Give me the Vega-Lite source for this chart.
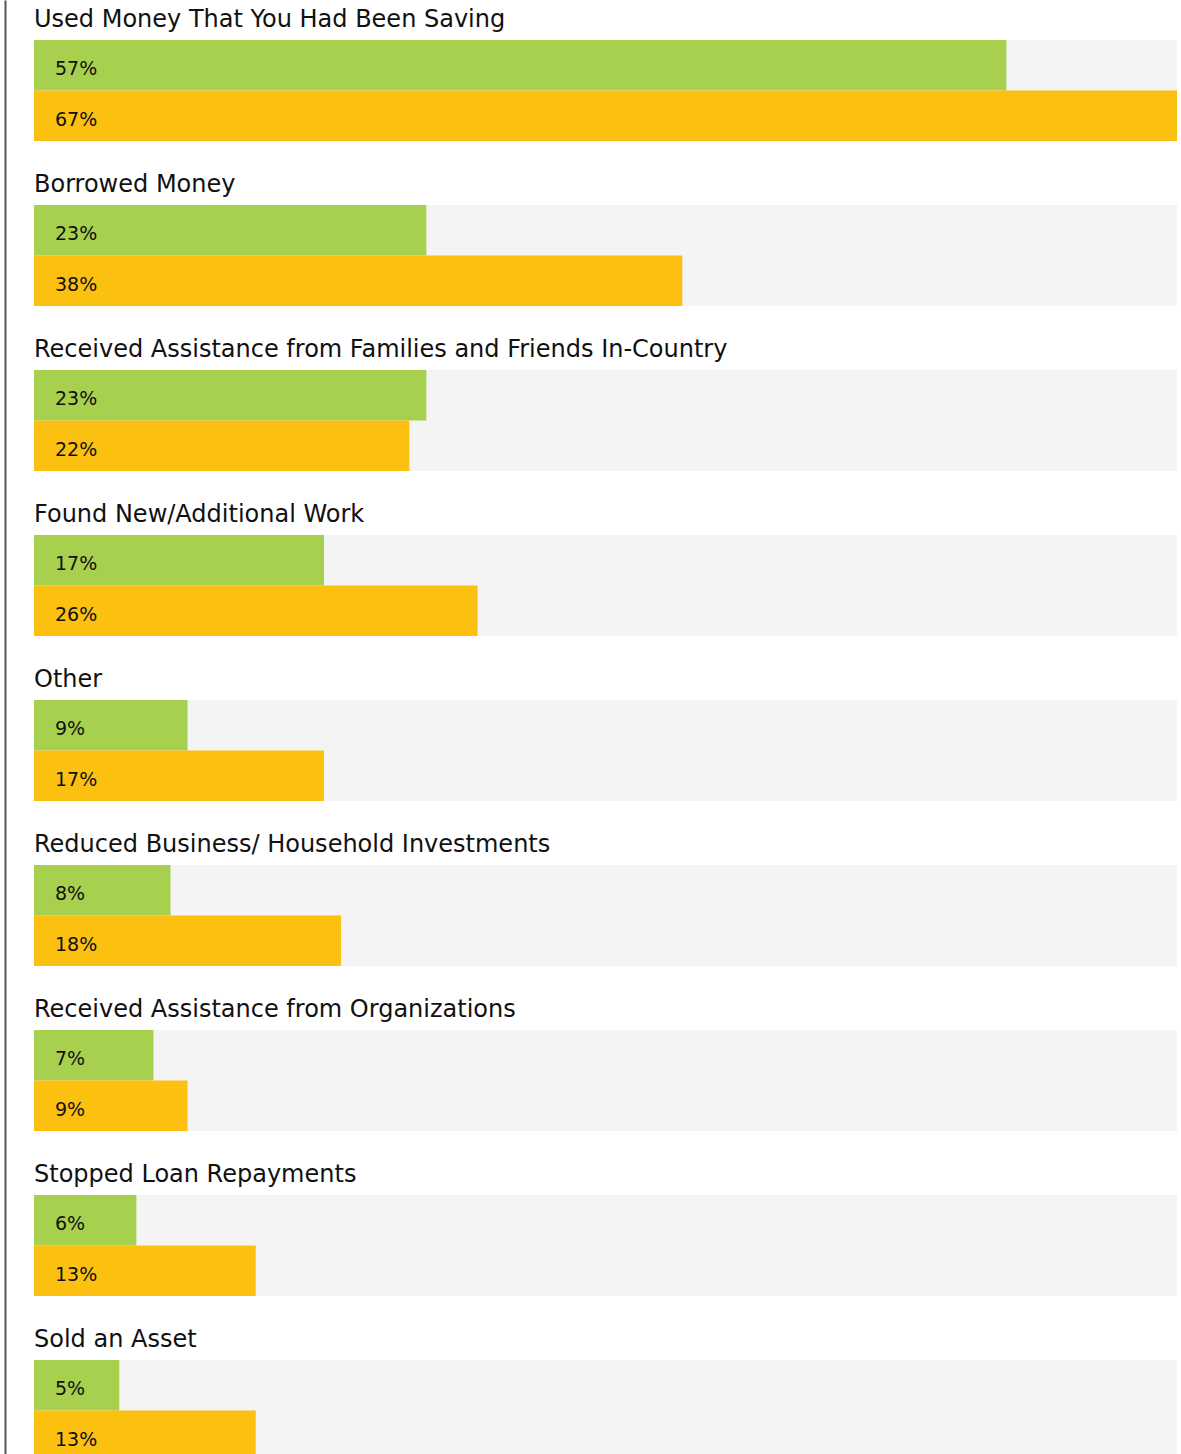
{
  "$schema": "https://vega.github.io/schema/vega-lite/v6.json",
  "width": 1143,
  "height": 1501,
  "padding": {"left": 34, "top": 0, "right": 4, "bottom": 0},
  "autosize": {"type": "none"},
  "background": "#ffffff",
  "config": {"view": {"stroke": null}, "font": "DejaVu Sans"},
  "data": {
    "values": [
      {"category": "Used Money That You Had Been Saving", "series": "Group 1", "value": 0.57},
      {"category": "Used Money That You Had Been Saving", "series": "Group 2", "value": 0.67},
      {"category": "Borrowed Money", "series": "Group 1", "value": 0.23},
      {"category": "Borrowed Money", "series": "Group 2", "value": 0.38},
      {"category": "Received Assistance from Families and Friends In-Country", "series": "Group 1", "value": 0.23},
      {"category": "Received Assistance from Families and Friends In-Country", "series": "Group 2", "value": 0.22},
      {"category": "Found New/Additional Work", "series": "Group 1", "value": 0.17},
      {"category": "Found New/Additional Work", "series": "Group 2", "value": 0.26},
      {"category": "Other", "series": "Group 1", "value": 0.09},
      {"category": "Other", "series": "Group 2", "value": 0.17},
      {"category": "Reduced Business/ Household Investments", "series": "Group 1", "value": 0.08},
      {"category": "Reduced Business/ Household Investments", "series": "Group 2", "value": 0.18},
      {"category": "Received Assistance from Organizations", "series": "Group 1", "value": 0.07},
      {"category": "Received Assistance from Organizations", "series": "Group 2", "value": 0.09},
      {"category": "Stopped Loan Repayments", "series": "Group 1", "value": 0.06},
      {"category": "Stopped Loan Repayments", "series": "Group 2", "value": 0.13},
      {"category": "Sold an Asset", "series": "Group 1", "value": 0.05},
      {"category": "Sold an Asset", "series": "Group 2", "value": 0.13}
    ]
  },
  "encoding": {
    "y": {
      "field": "category",
      "type": "nominal",
      "sort": null,
      "scale": {"paddingInner": 0.3879, "paddingOuter": 0.2424},
      "axis": {"domain": true, "domainColor": "#555555", "domainWidth": 2, "offset": 29, "labels": false, "ticks": false, "grid": false, "title": null}
    }
  },
  "layer": [
    {
      "transform": [{"filter": "datum.series === 'Group 1'"}],
      "mark": {"type": "bar", "color": "#f4f4f4"},
      "encoding": {
        "x": {"datum": 0.67, "type": "quantitative", "scale": {"domain": [0, 0.67], "nice": false}, "axis": null}
      }
    },
    {
      "mark": {"type": "bar"},
      "encoding": {
        "x": {"field": "value", "type": "quantitative"},
        "yOffset": {"field": "series", "type": "nominal", "sort": null},
        "color": {"field": "series", "type": "nominal", "scale": {"domain": ["Group 1", "Group 2"], "range": ["#a8d04f", "#fcc010"]}, "legend": null}
      }
    },
    {
      "mark": {"type": "text", "align": "left", "baseline": "middle", "dx": 21, "dy": 4, "fontSize": 19, "color": "#111111"},
      "encoding": {
        "x": {"datum": 0, "type": "quantitative"},
        "yOffset": {"field": "series", "type": "nominal", "sort": null},
        "text": {"field": "value", "type": "quantitative", "format": ".0%"}
      }
    },
    {
      "transform": [{"filter": "datum.series === 'Group 1'"}],
      "mark": {"type": "text", "align": "left", "baseline": "alphabetic", "dy": -13, "fontSize": 24, "color": "#111111"},
      "encoding": {
        "y": {"field": "category", "type": "nominal", "sort": null, "bandPosition": 0},
        "x": {"datum": 0, "type": "quantitative"},
        "text": {"field": "category", "type": "nominal"}
      }
    }
  ]
}
